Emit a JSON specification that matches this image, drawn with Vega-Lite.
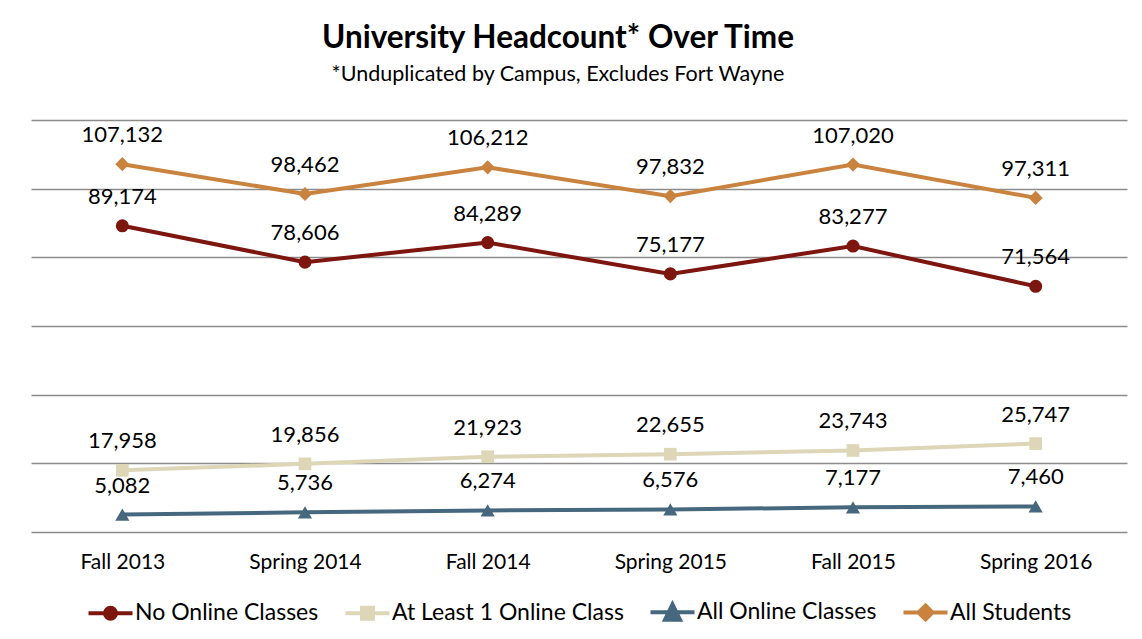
{
  "$schema": "https://vega.github.io/schema/vega-lite/v6.json",
  "width": 1096,
  "height": 412,
  "autosize": {"type": "none"},
  "padding": {"left": 31, "top": 120, "right": 15, "bottom": 107},
  "background": "white",
  "config": {"view": {"stroke": null}, "font": "Lato"},
  "title": {
    "text": "University Headcount* Over Time",
    "subtitle": "*Unduplicated by Campus, Excludes Fort Wayne",
    "anchor": "middle",
    "dx": -21,
    "fontSize": 31.5,
    "fontWeight": "bold",
    "font": "Lato",
    "color": "#000000",
    "subtitleFontSize": 21.5,
    "subtitleFont": "Lato",
    "subtitleColor": "#000000",
    "subtitlePadding": 9,
    "offset": 35
  },
  "data": {
    "values": [
      {"term": "Fall 2013", "series": "No Online Classes", "value": 89174},
      {"term": "Spring 2014", "series": "No Online Classes", "value": 78606},
      {"term": "Fall 2014", "series": "No Online Classes", "value": 84289},
      {"term": "Spring 2015", "series": "No Online Classes", "value": 75177},
      {"term": "Fall 2015", "series": "No Online Classes", "value": 83277},
      {"term": "Spring 2016", "series": "No Online Classes", "value": 71564},
      {"term": "Fall 2013", "series": "At Least 1 Online Class", "value": 17958},
      {"term": "Spring 2014", "series": "At Least 1 Online Class", "value": 19856},
      {"term": "Fall 2014", "series": "At Least 1 Online Class", "value": 21923},
      {"term": "Spring 2015", "series": "At Least 1 Online Class", "value": 22655},
      {"term": "Fall 2015", "series": "At Least 1 Online Class", "value": 23743},
      {"term": "Spring 2016", "series": "At Least 1 Online Class", "value": 25747},
      {"term": "Fall 2013", "series": "All Online Classes", "value": 5082},
      {"term": "Spring 2014", "series": "All Online Classes", "value": 5736},
      {"term": "Fall 2014", "series": "All Online Classes", "value": 6274},
      {"term": "Spring 2015", "series": "All Online Classes", "value": 6576},
      {"term": "Fall 2015", "series": "All Online Classes", "value": 7177},
      {"term": "Spring 2016", "series": "All Online Classes", "value": 7460},
      {"term": "Fall 2013", "series": "All Students", "value": 107132},
      {"term": "Spring 2014", "series": "All Students", "value": 98462},
      {"term": "Fall 2014", "series": "All Students", "value": 106212},
      {"term": "Spring 2015", "series": "All Students", "value": 97832},
      {"term": "Fall 2015", "series": "All Students", "value": 107020},
      {"term": "Spring 2016", "series": "All Students", "value": 97311}
    ]
  },
  "encoding": {
    "x": {
      "field": "term",
      "type": "ordinal",
      "sort": ["Fall 2013", "Spring 2014", "Fall 2014", "Spring 2015", "Fall 2015", "Spring 2016"],
      "axis": {
        "title": null,
        "labelAngle": 0,
        "labelFontSize": 21,
        "labelFont": "Lato",
        "labelColor": "#000000",
        "domain": false,
        "ticks": false,
        "labelPadding": 19
      }
    },
    "y": {
      "field": "value",
      "type": "quantitative",
      "scale": {"domain": [0, 120000], "nice": false},
      "axis": {
        "title": null,
        "labels": false,
        "ticks": false,
        "domain": false,
        "values": [0, 20000, 40000, 60000, 80000, 100000, 120000],
        "gridColor": "#8c8c8c",
        "gridWidth": 1.5,
        "gridOpacity": 1
      }
    },
    "color": {
      "field": "series",
      "type": "nominal",
      "scale": {
        "domain": ["No Online Classes", "At Least 1 Online Class", "All Online Classes", "All Students"],
        "range": ["#7E1610", "#DDD6B7", "#46687F", "#C9833F"]
      },
      "legend": {
        "orient": "none",
        "legendX": 57,
        "legendY": 480,
        "direction": "horizontal",
        "columns": 4,
        "title": null,
        "labelFontSize": 23,
        "labelFont": "Lato",
        "labelColor": "#000000",
        "labelLimit": 0,
        "symbolSize": 400,
        "symbolOffset": 10.5,
        "labelOffset": 12.5,
        "columnPadding": 18,
        "encode": {
          "symbols": {
            "update": {
              "shape": {"signal": "datum.value == 'No Online Classes' ? 'M-2.2,0H2.2M0.55,0A0.55,0.55,0,1,1,-0.55,0A0.55,0.55,0,1,1,0.55,0Z' : datum.value == 'At Least 1 Online Class' ? 'M-2.2,0H2.2M-0.55,-0.55H0.55V0.55H-0.55Z' : datum.value == 'All Online Classes' ? 'M-2.2,0H2.2M0,-0.8L0.75,0.75H-0.75Z' : 'M-2.2,0H2.2M0,-0.7L0.7,0L0,0.7L-0.7,0Z'"},
              "fill": {"scale": "color", "field": "value"},
              "stroke": {"scale": "color", "field": "value"},
              "strokeWidth": {"value": 4},
              "opacity": {"value": 1}
            }
          }
        }
      }
    }
  },
  "layer": [
    {"mark": {"type": "line", "strokeWidth": 4}},
    {
      "transform": [{"filter": "datum.series == 'No Online Classes'"}],
      "mark": {"type": "point", "filled": true, "shape": "circle", "size": 170, "opacity": 1}
    },
    {
      "transform": [{"filter": "datum.series == 'At Least 1 Online Class'"}],
      "mark": {"type": "point", "filled": true, "shape": "square", "size": 160, "opacity": 1}
    },
    {
      "transform": [{"filter": "datum.series == 'All Online Classes'"}],
      "mark": {"type": "point", "filled": true, "shape": "triangle-up", "size": 200, "opacity": 1}
    },
    {
      "transform": [{"filter": "datum.series == 'All Students'"}],
      "mark": {"type": "point", "filled": true, "shape": "diamond", "size": 200, "opacity": 1}
    },
    {
      "mark": {"type": "text", "dy": -29, "fontSize": 22, "font": "Lato"},
      "encoding": {
        "color": {"value": "#000000"},
        "text": {"field": "value", "type": "quantitative", "format": ","}
      }
    }
  ]
}
